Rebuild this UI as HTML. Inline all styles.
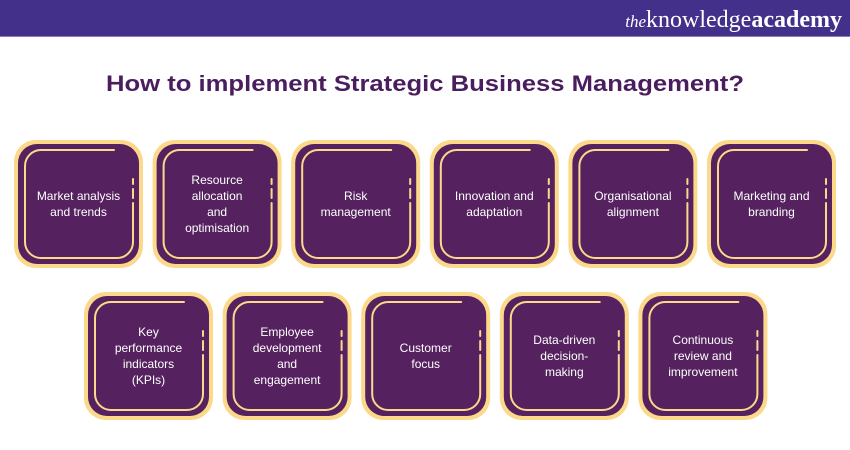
<!DOCTYPE html>
<html><head><meta charset="utf-8"><style>
html,body{margin:0;padding:0;background:#fff;}
svg{display:block;}
text{font-family:"Liberation Sans",sans-serif;}
</style></head><body>
<svg width="850" height="450" viewBox="0 0 850 450" xmlns="http://www.w3.org/2000/svg">
<defs>
<g id="box">
<rect x="0" y="0" width="129" height="128" rx="22" fill="#fcd98a"/>
<rect x="4" y="4" width="121" height="120" rx="19" fill="#55215f"/>
<path d="M100,10 H27 A16,16 0 0 0 11,26 V102 A16,16 0 0 0 27,118 H103 A16,16 0 0 0 119,102 V63 M119,39 V44 M119,49 V58" fill="none" stroke="#fcd98a" stroke-width="2" stroke-linecap="round"/>
</g>
</defs>
<rect x="0" y="0" width="850" height="36" fill="#43308a"/>
<rect x="0" y="36" width="850" height="1" fill="#8a7fc0"/>
<text x="842" y="27" text-anchor="end" fill="#fff" style="font-family:'Liberation Serif',serif;font-size:24px"><tspan font-style="italic" font-size="17">the</tspan>knowledge<tspan font-weight="bold">academy</tspan></text>
<text x="425" y="91" text-anchor="middle" fill="#4a1d5e" font-weight="bold" font-size="22" textLength="638" lengthAdjust="spacingAndGlyphs">How to implement Strategic Business Management?</text>
<g fill="#fff" font-size="12" text-anchor="middle">
<g transform="translate(14,140)"><use href="#box"/><text x="64.5" y="60">Market analysis</text><text x="64.5" y="76">and trends</text></g>
<g transform="translate(152.6,140)"><use href="#box"/><text x="64.5" y="44">Resource</text><text x="64.5" y="60">allocation</text><text x="64.5" y="76">and</text><text x="64.5" y="92">optimisation</text></g>
<g transform="translate(291.2,140)"><use href="#box"/><text x="64.5" y="60">Risk</text><text x="64.5" y="76">management</text></g>
<g transform="translate(429.8,140)"><use href="#box"/><text x="64.5" y="60">Innovation and</text><text x="64.5" y="76">adaptation</text></g>
<g transform="translate(568.4,140)"><use href="#box"/><text x="64.5" y="60">Organisational</text><text x="64.5" y="76">alignment</text></g>
<g transform="translate(707,140)"><use href="#box"/><text x="64.5" y="60">Marketing and</text><text x="64.5" y="76">branding</text></g>
<g transform="translate(84,292)"><use href="#box"/><text x="64.5" y="44">Key</text><text x="64.5" y="60">performance</text><text x="64.5" y="76">indicators</text><text x="64.5" y="92">(KPIs)</text></g>
<g transform="translate(222.6,292)"><use href="#box"/><text x="64.5" y="44">Employee</text><text x="64.5" y="60">development</text><text x="64.5" y="76">and</text><text x="64.5" y="92">engagement</text></g>
<g transform="translate(361.2,292)"><use href="#box"/><text x="64.5" y="60">Customer</text><text x="64.5" y="76">focus</text></g>
<g transform="translate(499.8,292)"><use href="#box"/><text x="64.5" y="52">Data-driven</text><text x="64.5" y="68">decision-</text><text x="64.5" y="84">making</text></g>
<g transform="translate(638.4,292)"><use href="#box"/><text x="64.5" y="52">Continuous</text><text x="64.5" y="68">review and</text><text x="64.5" y="84">improvement</text></g>
</g>
</svg>
</body></html>
